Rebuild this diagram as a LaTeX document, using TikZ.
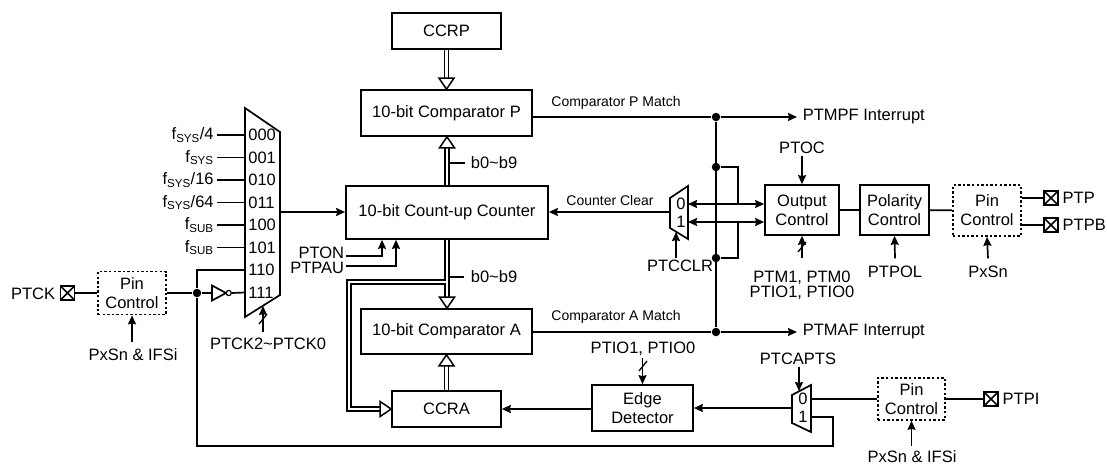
\documentclass[tikz,border=0pt]{standalone}
\usepackage{fontspec}
\setmainfont{Liberation Sans}
\usetikzlibrary{arrows.meta, decorations.markings}
\newcommand{\fsys}{f\textsubscript{SYS}}
\newcommand{\fsub}{f\textsubscript{SUB}}

\begin{document}
\begin{tikzpicture}[
            x=1pt, y=-1pt,
            line width=1.7pt,
            every node/.style={font=\fontsize{16.5}{15.5}\selectfont, inner sep=1pt},
            small/.style={font=\fontsize{14}{14}\selectfont},
            blk/.style={draw, align=center, inner sep=0pt, font=\fontsize{16.5}{19}\selectfont},
            pinbox/.style={blk, dash pattern=on 2.4pt off 2.2pt},
            pad/.style={draw, minimum size=14pt, inner sep=0pt,
                path picture={\draw[line width=1.6pt] (path picture bounding box.north west) -- (path picture bounding box.south east)
                    (path picture bounding box.south west) -- (path picture bounding box.north east);}},
            dot/.style={circle, fill, inner sep=0pt, minimum size=8.5pt},
            sig/.style={-{Stealth[length=9pt, width=8pt, inset=1pt]}},
            bus/.style={line width=5.4pt, shorten >=8pt,
                postaction={draw=white, line width=2.4pt, shorten >=8pt},
                postaction={decorate, decoration={markings, mark=at position 1 with
                    {\draw[line width=1.5pt, draw=black, fill=white, line join=miter, shorten >=0pt]
                        (-11pt,-7.5pt) -- (0pt,0pt) -- (-11pt,7.5pt) -- cycle;}}}},
        ]
            \useasboundingbox (0,0) rectangle (1107,466);

            % 主要方框
            \node[blk, minimum width=109pt, minimum height=36pt] (ccrp) at (446.5,31) {CCRP};
            \node[blk, minimum width=171pt, minimum height=46pt] (cmpp) at (446.5,113) {10-bit Comparator P};
            \node[blk, minimum width=202pt, minimum height=53pt] (cnt) at (447,212.5) {10-bit Count-up Counter};
            \node[blk, minimum width=171pt, minimum height=45pt] (cmpa) at (446.5,331.5) {10-bit Comparator A};
            \node[blk, minimum width=109pt, minimum height=36pt] (ccra) at (446.5,409) {CCRA};
            \node[blk, minimum width=101pt, minimum height=46pt] (edge) at (642.5,408) {Edge\\Detector};
            \node[blk, minimum width=74pt, minimum height=50pt] (outc) at (802,210) {Output\\Control};
            \node[blk, minimum width=69pt, minimum height=50pt] (polc) at (894.5,210) {Polarity\\Control};
            \node[pinbox, minimum width=68pt, minimum height=51pt] (pinp) at (987,210.5) {Pin\\Control};
            \node[pinbox, minimum width=68pt, minimum height=43pt] (pinck) at (132,293) {Pin\\Control};
            \node[pinbox, minimum width=67pt, minimum height=42pt] (pini) at (911.5,399) {Pin\\Control};

            % 时钟选择
            \draw (245,108) -- (280,132) -- (280,295) -- (245,317) -- cycle;
            \foreach \code [count=\i from 0] in {000,001,010,011,100,101,110,111} {
                \coordinate (m\i) at (245, 135+22.5*\i);
                \node[anchor=west] (c\code) at (246.5, 135+22.5*\i) {\code};
            }
            \foreach \src [count=\i from 0] in {{\fsys/4},\fsys,{\fsys/16},{\fsys/64},\fsub,\fsub} {
                \node[anchor=east, inner sep=2.5pt] (s\i) at (217, 135+22.5*\i) {\src};
                \draw (s\i.east) -- (m\i);
            }
            \coordinate (mo) at (280,212);
            \draw[sig] (mo) -- (mo -| cnt.west);
            \coordinate (mb1) at (263,306);
            \node (tck) at (268,344) {PTCK2\textasciitilde PTCK0};
            \draw[sig] ([yshift=4pt]tck.north -| mb1) -- (mb1);
            \draw[line width=1.3pt] (259,324) -- (267,314);

            % PTCK 输入
            \node[anchor=east] (ptck) at (57,294) {PTCK};
            \node[pad] (ckpad) at (67.5,293) {};
            \node[dot] (dck) at (197,293) {};
            \draw (ckpad) -- (pinck);
            \draw (pinck) -- (dck);
            \node (pxi1) at (133,355) {PxSn \& IFSi};
            \draw[sig] ([yshift=5pt]pxi1.north -| pinck.south) -- (pinck.south);
            \coordinate (ivi) at (212,293);
            \coordinate (ivo) at (231.5,293);
            \draw (212,285.5) -- (226,293) -- (212,300.5) -- cycle;
            \draw[line width=1.2pt] (228.7,293) circle (2.6);
            \draw (dck) -- (ivi);
            \draw (ivo) -- (m7);
            \draw (dck) |- (m6);

            \node[anchor=east] (ton) at (346,252.5) {PTON};
            \node[anchor=east] (tpau) at (346,268) {PTPAU};
            \draw[sig] ([yshift=-3.5pt]ton.east) -| ([xshift=-65pt]cnt.south);
            \draw[sig] ([yshift=2pt]tpau.east) -| ([xshift=-51pt]cnt.south);

            % 总线
            \draw[bus] (ccrp) -- (cmpp);
            \draw[bus] (cnt.north) -- (cnt.north |- cmpp.south);
            \draw[bus] (cnt.south) -- (cnt.south |- cmpa.north);
            \draw[bus] (ccra) -- (cmpa);
            \draw[bus] (445.8,282) -- (349,282) |- (ccra.west);
            \draw (450,163) -- (465,163);
            \node[anchor=west] (bp) at (469,163) {b0\textasciitilde b9};
            \draw (450,277) -- (464,277);
            \node[anchor=west] (ba) at (469,277) {b0\textasciitilde b9};

            % 比较匹配
            \node[dot] (jp) at (716,117) {};
            \node[dot] (j1) at (716,167) {};
            \node[dot] (j2) at (716,258) {};
            \node[dot] (ja) at (716,332) {};
            \node[anchor=west, inner sep=5pt] (pmpf) at (797,117) {PTMPF Interrupt};
            \node[anchor=west, inner sep=5pt] (pmaf) at (797,332) {PTMAF Interrupt};
            \node[small] (lp) at (616,103) {Comparator P Match};
            \node[small] (la) at (616,317) {Comparator A Match};
            \draw (cmpp.east |- jp) -- (jp);
            \draw (cmpa.east |- ja) -- (ja);
            \draw[sig] (jp) -- (pmpf.west);
            \draw[sig] (ja) -- (pmaf.west);
            \draw (jp) -- (ja);

            % 计数器清零
            \draw (670,198) -- (688,186) -- (688,239) -- (670,228) -- cycle;
            \node (z0) at (681,204) {0};
            \node (z1) at (681,222) {1};
            \coordinate (mx0) at (688,204);
            \coordinate (mx1) at (688,222);
            \coordinate (k0) at (738,204);
            \coordinate (k1) at (738,222);
            \draw (j1) -| (k0);
            \draw (j2) -| (k1);
            \draw[sig] (k0) -- (mx0);
            \draw[sig] (k1) -- (mx1);
            \draw[sig] (k0) -- (k0 -| outc.west);
            \draw[sig] (k1) -- (k1 -| outc.west);
            \coordinate (mo2) at (670,212);
            \draw[sig] (mo2) -- (mo2 -| cnt.east);
            \node[small] (lcc) at (610,200) {Counter Clear};
            \coordinate (mb2) at (676,232);
            \node (tclr) at (680,266) {PTCCLR};
            \draw[sig] (tclr.north -| mb2) -- (mb2);

            % 输出
            \node (toc) at (802,148) {PTOC};
            \draw[sig] (toc) -- (outc.north);
            \node[align=center] (tm) at (802,285.5) {PTM1, PTM0\\PTIO1, PTIO0};
            \draw[sig] ([yshift=11pt]tm.north) -- (outc.south);
            \draw[line width=1.3pt] (798,252) -- (806,242);
            \draw (outc) -- (polc);
            \draw (polc) -- (pinp);
            \node (tpol) at (895,272) {PTPOL};
            \draw[sig] ([yshift=6pt]tpol.north) -- (polc.south);
            \node (pxs) at (988,272) {PxSn};
            \draw[sig] ([yshift=6pt]pxs.north) -- (pinp.south);
            \node[pad] (ptp) at (1051,198) {};
            \node[pad] (ptpb) at (1051,225) {};
            \draw (pinp.east |- ptp) -- (ptp);
            \draw (pinp.east |- ptpb) -- (ptpb);
            \node[anchor=west, inner sep=3pt] (lptp) at (ptp.east) {PTP};
            \node[anchor=west, inner sep=3pt] (lptpb) at (ptpb.east) {PTPB};

            % 捕获输入
            \draw (792,395) -- (811,385) -- (811,432) -- (792,423) -- cycle;
            \node (y0) at (803,399) {0};
            \node (y1) at (803,417) {1};
            \coordinate (mi0) at (811,399);
            \coordinate (mi1) at (811,417);
            \coordinate (mo3) at (792,408);
            \draw[sig] (mo3) -- (mo3 -| edge.east);
            \draw[sig] (edge.west |- ccra) -- (ccra.east);
            \node (tcap) at (798,359) {PTCAPTS};
            \coordinate (mt3) at (799,391);
            \draw[sig] (tcap.south -| mt3) -- (mt3);
            \node (tio) at (643,349) {PTIO1, PTIO0};
            \draw[sig] (tio.south -| edge.north) -- (edge.north);
            \draw[line width=1.3pt] (639,371) -- (647,361);
            \draw (mi0) -- (mi0 -| pini.west);
            \node[pad] (ptpi) at (991,399) {};
            \draw (pini.east) -- (ptpi);
            \node[anchor=west, inner sep=3pt] (lptpi) at (ptpi.east) {PTPI};
            \node (pxi2) at (912,457) {PxSn \& IFSi};
            \draw[sig] ([yshift=3pt]pxi2.north -| pini.south) -- (pini.south);
            \coordinate (lpb) at (833,446);
            \draw (dck) |- (lpb) |- (mi1);

        \end{tikzpicture}
\end{document}
